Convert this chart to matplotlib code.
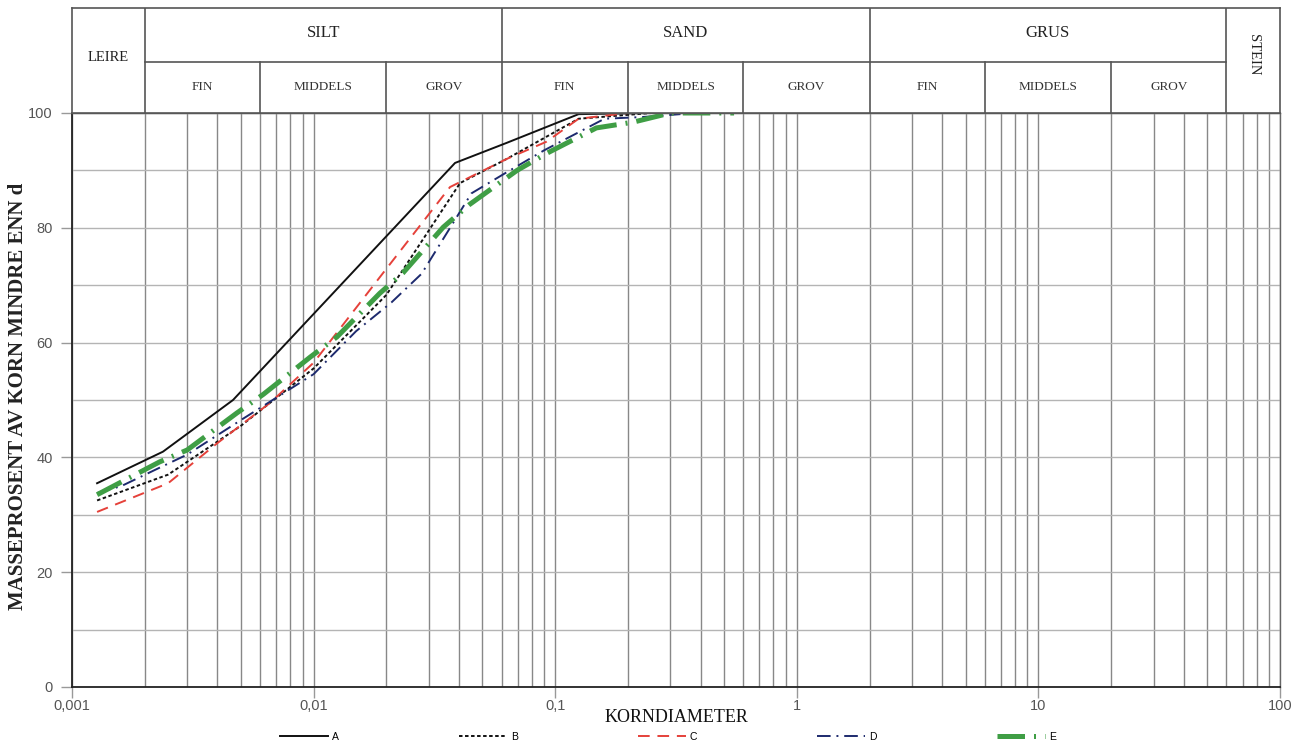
import matplotlib
matplotlib.use("Agg")
import matplotlib.pyplot as plt
from matplotlib.ticker import FixedLocator, FuncFormatter, NullFormatter

# ---------------- data ----------------
dA = [0.00127, 0.00238, 0.00464, 0.0385, 0.063, 0.125, 0.25]
pA = [35.5, 41.0, 50.0, 91.3, 94.8, 99.8, 100.0]

dB = [0.00127, 0.0025, 0.005, 0.01, 0.02, 0.0404, 0.063, 0.125, 0.25]
pB = [32.5, 37.0, 45.5, 55.5, 68.3, 87.8, 92.0, 99.0, 100.0]

dC = [0.00127, 0.0025, 0.004, 0.0066, 0.01, 0.0188, 0.0367, 0.063, 0.092, 0.125, 0.2]
pC = [30.5, 35.5, 42.5, 49.5, 56.5, 71.4, 87.1, 92.0, 95.0, 99.0, 100.0]

dD = [0.00127, 0.0016, 0.0022, 0.003, 0.005, 0.01, 0.015, 0.021, 0.028, 0.045,
      0.062, 0.09, 0.16, 0.23, 0.33]
pD = [33.8, 35.0, 37.8, 40.5, 46.5, 54.5, 62.0, 67.0, 72.0, 86.0,
      89.5, 93.5, 99.0, 99.3, 99.8]

dE = [0.00127, 0.0023, 0.003, 0.0048, 0.0062, 0.0097, 0.0125, 0.0188, 0.0234,
      0.0344, 0.044, 0.0695, 0.0925, 0.148, 0.21, 0.3, 0.55]
pE = [33.5, 39.2, 41.3, 47.7, 51.0, 57.5, 61.0, 68.6, 72.1,
      80.1, 84.0, 90.0, 93.0, 97.4, 98.4, 100.0, 100.0]

series_names = ["A", "B", "C", "D", "E"]

x_ticks = [0.001, 0.01, 0.1, 1, 10, 100]
y_ticks = [0, 20, 40, 60, 80, 100]

main_bounds = [0.002, 0.06, 2, 60]
sub_bounds = [0.006, 0.02, 0.2, 0.6, 6, 20]
main_labels = ["LEIRE", "SILT", "SAND", "GRUS", "STEIN"]
main_edges = [0.001, 0.002, 0.06, 2, 60, 100]
sub_labels = ["FIN", "MIDDELS", "GROV"]
sub_edges = [0.002, 0.006, 0.02, 0.06, 0.2, 0.6, 2, 6, 20, 60]

SERIF = ["Liberation Serif", "DejaVu Serif"]
SANS = ["Liberation Sans", "DejaVu Sans"]

W, H = 1311, 756
fig = plt.figure(figsize=(W / 100, H / 100), dpi=100)

x0, x1 = 72, 1280
ytop, ybot = 113, 687
hdr_top, hdr_mid = 8, 62

ax = fig.add_axes([x0 / W, 1 - ybot / H, (x1 - x0) / W, (ybot - ytop) / H])
hx = fig.add_axes([x0 / W, 1 - ytop / H, (x1 - x0) / W, (ytop - hdr_top) / H])

# ---------------- main axes ----------------
ax.set_xscale("log")
ax.set_xlim(0.001, 100)
ax.set_ylim(0, 100)

minor_x = [m * 10.0 ** e for e in range(-3, 2) for m in range(2, 10)]
ax.xaxis.set_major_locator(FixedLocator(x_ticks))
ax.xaxis.set_minor_locator(FixedLocator(minor_x))
ax.xaxis.set_major_formatter(FuncFormatter(lambda v, p: ("%g" % v).replace(".", ",")))
ax.xaxis.set_minor_formatter(NullFormatter())
ax.yaxis.set_major_locator(FixedLocator(y_ticks))
ax.yaxis.set_minor_locator(FixedLocator([10, 30, 50, 70, 90]))

ax.grid(True, which="both", axis="x", color="#888888", lw=1.0)
ax.grid(True, which="both", axis="y", color="#b4b4b4", lw=1.0)
ax.set_axisbelow(True)

ax.tick_params(axis="both", which="minor", length=0)
ax.tick_params(axis="both", which="major", length=8, width=1, color="#999999",
               labelcolor="#555555", labelsize=10.5)
ax.tick_params(axis="x", which="major", pad=1)
ax.tick_params(axis="y", which="major", pad=6)
for lab in ax.get_xticklabels() + ax.get_yticklabels():
    lab.set_fontfamily(SANS)

for s in ["left", "bottom"]:
    ax.spines[s].set_color("#222222")
    ax.spines[s].set_linewidth(1.3)
for s in ["right", "top"]:
    ax.spines[s].set_color("#666666")
    ax.spines[s].set_linewidth(1.0)

lA, = ax.plot(dA, pA, color="#111111", lw=1.4, ls="-", label="A")
lB, = ax.plot(dB, pB, color="#111111", lw=1.4, ls=(0, (1.8, 1.3)), label="B")
lC, = ax.plot(dC, pC, color="#e5413a", lw=1.4, ls=(0, (6, 4)), label="C")
lD, = ax.plot(dD, pD, color="#1d2a6e", lw=1.4, ls=(0, (7, 3, 1, 3)), label="D")
lE, = ax.plot(dE, pE, color="#3f9e45", lw=3.6, ls=(0, (5.5, 1.8, 0.4, 1.8)), label="E")

# ---------------- header ----------------
hx.set_xscale("log")
hx.set_xlim(0.001, 100)
hx.set_ylim(0, 1)
hx.set_xticks([])
hx.set_yticks([])
hx.minorticks_off()
for s in hx.spines.values():
    s.set_color("#555555")
    s.set_linewidth(1.2)
mid = (ytop - hdr_mid) / (ytop - hdr_top)
hx.plot([0.002, 60], [mid, mid], color="#555555", lw=1.2)
for b in main_bounds:
    hx.plot([b, b], [0, 1], color="#555555", lw=1.2)
for b in sub_bounds:
    hx.plot([b, b], [0, mid], color="#555555", lw=1.2)

top_y = (ytop - 33) / (ytop - hdr_top)
sub_y = (ytop - 87) / (ytop - hdr_top)
for i, name in enumerate(main_labels):
    lo, hi = main_edges[i], main_edges[i + 1]
    xc = (lo * hi) ** 0.5
    if name == "LEIRE":
        hx.text(xc, 0.53, name, ha="center", va="center", fontsize=10.5,
                family=SERIF, color="#222222")
    elif name == "STEIN":
        hx.text(xc, 0.55, name, ha="center", va="center", fontsize=10.5,
                family=SERIF, color="#222222", rotation=-90)
    else:
        hx.text(xc, top_y, name, ha="center", va="center", fontsize=12,
                family=SERIF, color="#222222")
for i in range(len(sub_edges) - 1):
    lo, hi = sub_edges[i], sub_edges[i + 1]
    xc = (lo * hi) ** 0.5
    hx.text(xc, sub_y, sub_labels[i % 3], ha="center", va="center", fontsize=9.5,
            family=SERIF, color="#333333")

# ---------------- axis titles ----------------
fig.text(676 / W, 1 - 718 / H, "KORNDIAMETER", ha="center", va="center",
         fontsize=13, family=SERIF, color="#111111")
fig.text(18 / W, 1 - 396 / H, "MASSEPROSENT AV KORN MINDRE ENN d", ha="center",
         va="center", rotation=90, fontsize=15, family=SERIF,
         fontweight="bold", color="#222222")

# ---------------- legend ----------------
leg = fig.legend(handles=[lA, lB, lC, lD, lE], labels=series_names,
                 loc="center", bbox_to_anchor=(668 / W, 1 - 737 / H), ncol=5,
                 frameon=False, handlelength=4.6, handletextpad=0.4,
                 columnspacing=11.5, prop={"family": SANS, "size": 7.5})

fig.savefig("out.png", dpi=100)
